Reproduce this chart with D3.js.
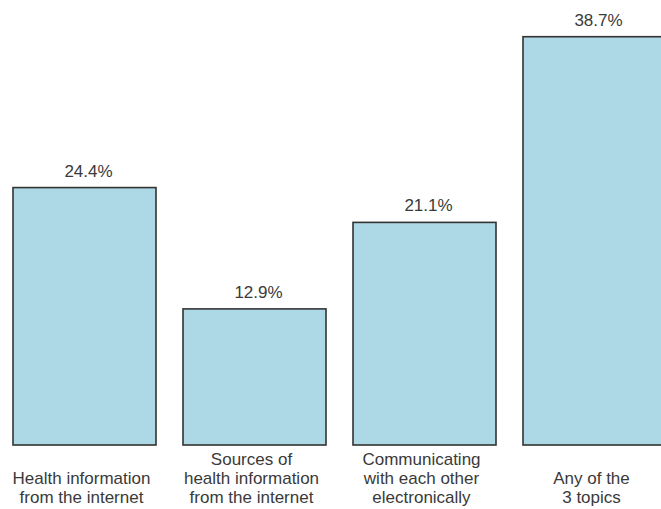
<!DOCTYPE html>
<html><head><meta charset="utf-8">
<script src="https://cdn.jsdelivr.net/npm/d3@7"></script>
<style>html,body{margin:0;padding:0;background:#fff;overflow:hidden}</style>
</head><body>
<svg id="c" width="661" height="509"></svg>
<script>
const categories = ["Health information from the internet","Sources of health information from the internet","Communicating with each other electronically","Any of the 3 topics"];
const labelLines = [["Health information","from the internet"],["Sources of","health information","from the internet"],["Communicating","with each other","electronically"],["Any of the","3 topics"]];
const values = [24.4, 12.9, 21.1, 38.7];
const valueLabels = ["24.4%","12.9%","21.1%","38.7%"];

const svg = d3.select("#c");
const x = d3.scaleBand().domain(categories).range([-0.5, 679.5]).paddingInner(27/170).paddingOuter(27/340);
const y = d3.scaleLinear().domain([0, 40]).range([445, 445 - 10.55*40]);

svg.selectAll("rect.bar").data(values).join("rect").attr("class","bar")
  .attr("x",(d,i)=>x(categories[i])).attr("width",x.bandwidth())
  .attr("y",d=>y(d)).attr("height",d=>y(0)-y(d))
  .attr("fill","#ADD8E6").attr("stroke","#333").attr("stroke-width",1.6);

svg.selectAll("text.val").data(values).join("text").attr("class","val")
  .attr("x",(d,i)=>x(categories[i])+x.bandwidth()/2+4).attr("y",d=>y(d)-11)
  .attr("text-anchor","middle").attr("font-family","Liberation Sans, Arial, sans-serif")
  .attr("font-size",17).attr("fill","#3a3a3a").text((d,i)=>valueLabels[i]);

const baselines=[465,484,503];
categories.forEach((c,i)=>{
  const lines=labelLines[i];
  const t=svg.append("text").attr("text-anchor","middle").attr("font-family","Liberation Sans, Arial, sans-serif")
    .attr("font-size",17).attr("fill","#3a3a3a");
  lines.forEach((l,j)=>{
    t.append("tspan").attr("x",x(c)+x.bandwidth()/2-3).attr("y",baselines[3-lines.length+j]).text(l);
  });
});
</script>
</body></html>
